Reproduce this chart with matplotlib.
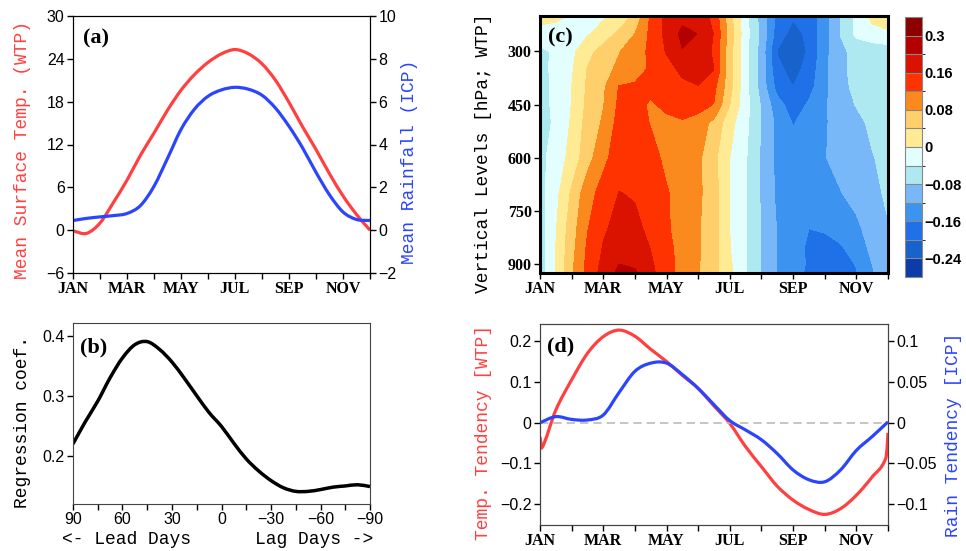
import numpy as np
import matplotlib
matplotlib.use("Agg")
import matplotlib.pyplot as plt
from matplotlib.colors import ListedColormap, BoundaryNorm
from matplotlib.path import Path
from matplotlib.patches import PathPatch

# ---------------- data ----------------
month_pos = [0, 0.5, 1.0, 1.5, 2.0, 2.5, 3.0, 3.5, 4.0, 4.5, 5.0, 5.5,
             6.0, 6.5, 7.0, 7.5, 8.0, 8.5, 9.0, 9.5, 10.0, 10.5, 11.0]
month_ticks = [0, 1, 2, 3, 4, 5, 6, 7, 8, 9, 10, 11]
month_labels = ["JAN", "", "MAR", "", "MAY", "", "JUL", "", "SEP", "", "NOV", ""]

# (a) climatology
temp_mean = [-0.1, -0.45, 1.0, 3.9, 7.0, 10.5, 13.6, 16.8, 19.6, 21.8, 23.5, 24.7,
             25.3, 24.7, 23.3, 21.0, 17.9, 14.5, 11.3, 7.9, 4.8, 2.2, 0.0]
rain_mean = [0.45, 0.55, 0.62, 0.68, 0.78, 1.15, 2.05, 3.35, 4.7, 5.65, 6.25, 6.55,
             6.67, 6.58, 6.3, 5.7, 4.85, 3.85, 2.7, 1.65, 0.85, 0.5, 0.45]
temp_ticks = [-6, 0, 6, 12, 18, 24, 30]
rain_ticks = [-2, 0, 2, 4, 6, 8, 10]

# (b) lead-lag regression
lead_days = [90, 82.5, 75, 67.5, 60, 52.5, 45, 37.5, 30, 22.5, 15, 7.5, 0,
             -7.5, -15, -22.5, -30, -37.5, -45, -52.5, -60, -67.5, -75, -82.5, -90]
reg_coef = [0.221, 0.258, 0.292, 0.331, 0.364, 0.386, 0.391, 0.378, 0.357, 0.330,
            0.301, 0.273, 0.250, 0.222, 0.196, 0.176, 0.160, 0.148, 0.142, 0.142,
            0.145, 0.149, 0.151, 0.153, 0.150]
lag_ticks = [90, 60, 30, 0, -30, -60, -90]
lag_labels = ["90", "60", "30", "0", "\u221230", "\u221260", "\u221290"]
lag_minor = [75, 45, 15, -15, -45, -75]
reg_ticks = [0.2, 0.3, 0.4]

# (c) vertical profile of regression (rows = pressure levels, cols = month_pos)
c_levels = [200, 250, 300, 350, 400, 450, 500, 600, 700, 800, 850, 900, 925]
c_field = [
    [0.015, 0.008, -0.003, -0.01, -0.006, 0.011, 0.048, 0.126, 0.17, 0.188, 0.185, 0.147,
     0.053, -0.028, -0.097, -0.172, -0.195, -0.185, -0.138, -0.079, -0.032, 0.012, 0.025],
    [-0.015, -0.015, -0.012, -0.004, 0.017, 0.049, 0.08, 0.129, 0.171, 0.21, 0.199, 0.158,
     0.063, -0.025, -0.091, -0.18, -0.215, -0.19, -0.137, -0.079, -0.03, -0.015, -0.008],
    [-0.05, -0.033, -0.009, 0.027, 0.056, 0.078, 0.102, 0.128, 0.163, 0.198, 0.19, 0.153,
     0.053, -0.028, -0.097, -0.202, -0.22, -0.196, -0.133, -0.087, -0.07, -0.065, -0.06],
    [-0.05, -0.032, -0.005, 0.042, 0.067, 0.088, 0.106, 0.125, 0.147, 0.168, 0.18, 0.16,
     0.053, -0.028, -0.097, -0.19, -0.215, -0.185, -0.13, -0.087, -0.07, -0.065, -0.06],
    [-0.05, -0.034, 0.0, 0.046, 0.074, 0.122, 0.125, 0.13, 0.14, 0.152, 0.158, 0.13,
     0.053, -0.028, -0.097, -0.175, -0.2, -0.175, -0.13, -0.09, -0.072, -0.065, -0.06],
    [-0.05, -0.034, 0.001, 0.049, 0.078, 0.128, 0.132, 0.115, 0.13, 0.14, 0.14, 0.118,
     0.04, -0.025, -0.085, -0.145, -0.18, -0.155, -0.125, -0.098, -0.078, -0.065, -0.06],
    [-0.05, -0.036, 0.005, 0.055, 0.085, 0.135, 0.135, 0.118, 0.11, 0.116, 0.1, 0.07,
     0.015, -0.03, -0.082, -0.13, -0.163, -0.142, -0.124, -0.105, -0.09, -0.072, -0.065],
    [-0.05, -0.025, 0.015, 0.064, 0.11, 0.14, 0.145, 0.132, 0.112, 0.1, 0.088, 0.05,
     0.0, -0.036, -0.086, -0.13, -0.145, -0.14, -0.122, -0.105, -0.095, -0.082, -0.07],
    [-0.055, -0.012, 0.046, 0.105, 0.135, 0.161, 0.157, 0.142, 0.123, 0.105, 0.088, 0.056,
     0.0, -0.036, -0.085, -0.128, -0.142, -0.145, -0.138, -0.122, -0.105, -0.088, -0.075],
    [-0.06, -0.003, 0.062, 0.118, 0.155, 0.172, 0.168, 0.152, 0.125, 0.104, 0.084, 0.055,
     0.0, -0.038, -0.083, -0.122, -0.145, -0.16, -0.155, -0.145, -0.13, -0.1, -0.082],
    [-0.06, 0.0, 0.066, 0.125, 0.162, 0.182, 0.18, 0.158, 0.13, 0.106, 0.085, 0.055,
     0.001, -0.037, -0.083, -0.121, -0.145, -0.166, -0.175, -0.163, -0.14, -0.11, -0.082],
    [-0.06, 0.0, 0.072, 0.13, 0.17, 0.2, 0.195, 0.166, 0.134, 0.107, 0.083, 0.054,
     0.006, -0.037, -0.083, -0.121, -0.143, -0.165, -0.18, -0.175, -0.158, -0.12, -0.085],
    [-0.06, 0.0, 0.072, 0.132, 0.175, 0.21, 0.205, 0.17, 0.135, 0.107, 0.083, 0.054,
     0.008, -0.037, -0.083, -0.121, -0.145, -0.168, -0.185, -0.18, -0.162, -0.125, -0.085],
]
c_bounds = [-0.24, -0.2, -0.16, -0.12, -0.08, -0.04, 0, 0.04, 0.08, 0.12, 0.16, 0.2, 0.3]
c_colors = ["#0C3CAA", "#1862CC", "#2070E8", "#3C94F0", "#78B8F8", "#AEE8F0", "#E2FEFF",
            "#FFEB94", "#FECF6A", "#FB8A1E", "#FF3300", "#DA1200", "#B40000", "#8C0000"]
c_tick_vals = [-0.24, -0.16, -0.08, 0, 0.08, 0.16, 0.3]
c_tick_labels = ["\u22120.24", "\u22120.16", "\u22120.08", "0", "0.08", "0.16", "0.3"]
p_ticks = [300, 450, 600, 750, 900]

# (d) tendencies
tend_temp_x = [0, 0.06, 0.5, 1.0, 1.5, 2.0, 2.5, 3.0, 3.5, 4.0, 4.5, 5.0, 5.5, 6.0,
               6.5, 7.0, 7.5, 8.0, 8.5, 9.0, 9.5, 10.0, 10.5, 10.94, 11.0]
tend_temp = [-0.035, -0.062, 0.031, 0.105, 0.17, 0.211, 0.227, 0.212, 0.18, 0.15, 0.116,
             0.084, 0.041, -0.002, -0.059, -0.108, -0.156, -0.19, -0.213, -0.225, -0.211,
             -0.178, -0.133, -0.085, -0.025]
tend_rain = [0.0, 0.0074, 0.004, 0.0033, 0.0094, 0.037, 0.063, 0.073, 0.073, 0.059, 0.042,
             0.022, 0.0025, -0.009, -0.021, -0.038, -0.058, -0.07, -0.0725, -0.058, -0.034,
             -0.017, 0.001]
tt_ticks = [-0.2, -0.1, 0, 0.1, 0.2]
tt_labels = ["\u22120.2", "\u22120.1", "0", "0.1", "0.2"]
tr_ticks = [-0.1, -0.05, 0, 0.05, 0.1]
tr_labels = ["\u22120.1", "\u22120.05", "0", "0.05", "0.1"]

# ---------------- style ----------------
RED = "#FF4040"
BLUE = "#2B45FF"
W, H = 966, 551
MONO = "Liberation Mono"
SANS = "Liberation Sans"
SERIF = "Liberation Serif"
TICKFS = 11.5
LABFS = 13

fig = plt.figure(figsize=(W / 100, H / 100), dpi=100)


def add_ax(l, t, r, b):
    return fig.add_axes([l / W, 1 - b / H, (r - l) / W, (b - t) / H])


def smooth_line(ax, xs, ys, color, lw):
    """Draw a smooth (cubic Hermite / Bezier) curve through the data points."""
    x = np.asarray(xs, float)
    y = np.asarray(ys, float)
    n = len(x)
    m = np.empty(n)
    m[0] = (y[1] - y[0]) / (x[1] - x[0])
    m[-1] = (y[-1] - y[-2]) / (x[-1] - x[-2])
    for i in range(1, n - 1):
        m[i] = (y[i + 1] - y[i - 1]) / (x[i + 1] - x[i - 1])
    verts = [(x[0], y[0])]
    codes = [Path.MOVETO]
    for i in range(n - 1):
        h = x[i + 1] - x[i]
        verts += [(x[i] + h / 3, y[i] + m[i] * h / 3),
                  (x[i + 1] - h / 3, y[i + 1] - m[i + 1] * h / 3),
                  (x[i + 1], y[i + 1])]
        codes += [Path.CURVE4] * 3
    patch = PathPatch(Path(verts, codes), facecolor="none", edgecolor=color, lw=lw,
                      capstyle="butt", joinstyle="round")
    ax.add_patch(patch)


def style_ticks(ax, which_axes="both", length=4.5, pad=1.5):
    ax.tick_params(axis=which_axes, direction="out", length=length, width=1.0, pad=pad)


def month_axis(ax):
    ax.set_xlim(0, 11)
    ax.set_xticks(month_ticks)
    ax.set_xticklabels(month_labels, fontfamily=SERIF, fontweight="bold", fontsize=TICKFS)


def set_num_font(ax, axis="y", family=SANS, weight="normal"):
    labels = ax.get_yticklabels() if axis == "y" else ax.get_xticklabels()
    for t in labels:
        t.set_fontfamily(family)
        t.set_fontsize(TICKFS)
        t.set_fontweight(weight)


def panel_label(ax, x, y, s):
    ax.text(x, y, s, transform=ax.transAxes, fontfamily=SERIF, fontweight="bold",
            fontsize=16, ha="left", va="center", zorder=10)


# ---- (a) ----
axA = add_ax(73, 16, 370, 273)
smooth_line(axA, month_pos, temp_mean, RED, 2.3)
axA.set_ylim(-6, 30)
axA.set_yticks(temp_ticks)
month_axis(axA)
axA2 = axA.twinx()
smooth_line(axA2, month_pos, rain_mean, BLUE, 2.3)
axA2.set_ylim(-2, 10)
axA2.set_yticks(rain_ticks)
axA2.set_xlim(0, 11)
for a in (axA, axA2):
    style_ticks(a)
    set_num_font(a)
panel_label(axA, 0.034, 0.914, "(a)")
fig.text(23 / W, 1 - 150 / H, "Mean Surface Temp. (WTP)", rotation=90, color=RED,
         fontfamily=MONO, fontsize=LABFS, ha="center", va="center")
fig.text(410 / W, 1 - 162 / H, "Mean Rainfall (ICP)", rotation=90, color=BLUE,
         fontfamily=MONO, fontsize=LABFS, ha="center", va="center")

# ---- (b) ----
axB = add_ax(73, 323, 370, 504)
smooth_line(axB, lead_days, reg_coef, "black", 2.5)
axB.set_xlim(90, -90)
axB.set_ylim(0.121, 0.422)
axB.set_xticks(lag_ticks)
axB.set_xticklabels(lag_labels)
axB.set_xticks(lag_minor, minor=True)
axB.set_yticks(reg_ticks)
style_ticks(axB)
axB.tick_params(axis="x", which="minor", direction="out", length=4.5, width=1.0)
set_num_font(axB, "y")
set_num_font(axB, "x")
for s in axB.spines.values():
    s.set_color("#444444")
panel_label(axB, 0.024, 0.867, "(b)")
fig.text(23 / W, 1 - 422 / H, "Regression coef.", rotation=90, color="black",
         fontfamily=MONO, fontsize=LABFS, ha="center", va="center")
fig.text(62 / W, 1 - 539 / H, "<- Lead Days", fontfamily=MONO, fontsize=LABFS,
         ha="left", va="center")
fig.text(373 / W, 1 - 539 / H, "Lag Days ->", fontfamily=MONO, fontsize=LABFS,
         ha="right", va="center")

# ---- (c) ----
axC = add_ax(540, 16, 888, 273)
cmap = ListedColormap(c_colors[1:-1])
cmap.set_under(c_colors[0])
cmap.set_over(c_colors[-1])
norm = BoundaryNorm(c_bounds, cmap.N)
X, Y = np.meshgrid(month_pos, c_levels)
cf = axC.contourf(X, Y, np.array(c_field), levels=c_bounds, cmap=cmap, norm=norm,
                  extend="both")
axC.set_ylim(925, 200)
axC.set_yticks(p_ticks)
month_axis(axC)
style_ticks(axC)
set_num_font(axC, "y", family=SERIF, weight="bold")
for s in axC.spines.values():
    s.set_linewidth(2.2)
    s.set_color("black")
panel_label(axC, 0.023, 0.916, "(c)")
fig.text(483 / W, 1 - 153 / H, "Vertical Levels [hPa; WTP]", rotation=90, color="black",
         fontfamily=MONO, fontsize=LABFS, ha="center", va="center")

cax = add_ax(905, 17, 922, 277)
cb = fig.colorbar(cf, cax=cax, extendrect=True, extendfrac="auto", drawedges=True)
cb.set_ticks(c_tick_vals)
cb.set_ticklabels(c_tick_labels)
cb.ax.tick_params(length=0, pad=2)
for t in cb.ax.get_yticklabels():
    t.set_fontfamily(SANS)
    t.set_fontweight("bold")
    t.set_fontsize(10.5)
cb.outline.set_edgecolor("#888888")
cb.outline.set_linewidth(0.8)
cb.dividers.set_color("#888888")
cb.dividers.set_linewidth(0.8)

# ---- (d) ----
axD = add_ax(540, 324, 888, 525)
axD.axhline(0, color="#BBBBBB", lw=1.2, ls=(0, (5, 3)))
smooth_line(axD, tend_temp_x, tend_temp, RED, 2.3)
axD.set_ylim(-0.251, 0.242)
axD.set_yticks(tt_ticks)
axD.set_yticklabels(tt_labels)
month_axis(axD)
axD2 = axD.twinx()
smooth_line(axD2, month_pos, tend_rain, BLUE, 2.3)
axD2.set_ylim(-0.1255, 0.121)
axD2.set_yticks(tr_ticks)
axD2.set_yticklabels(tr_labels)
axD2.set_xlim(0, 11)
for a in (axD, axD2):
    style_ticks(a)
    set_num_font(a)
    for s in a.spines.values():
        s.set_color("#444444")
panel_label(axD, 0.02, 0.886, "(d)")
fig.text(484 / W, 1 - 432 / H, "Temp. Tendency [WTP]", rotation=90, color=RED,
         fontfamily=MONO, fontsize=LABFS, ha="center", va="center")
fig.text(953 / W, 1 - 435 / H, "Rain Tendency [ICP]", rotation=90, color=BLUE,
         fontfamily=MONO, fontsize=LABFS, ha="center", va="center")

fig.savefig("out.png", dpi=100)
